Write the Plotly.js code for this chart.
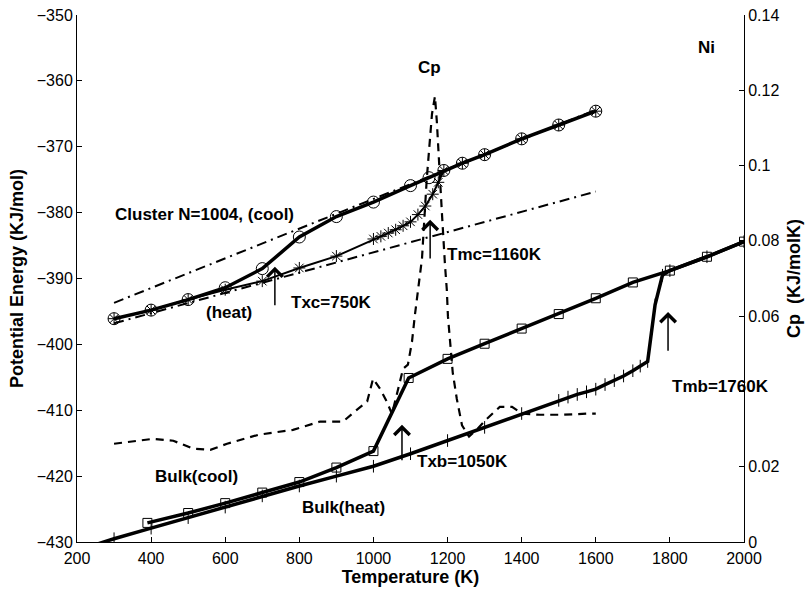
<!DOCTYPE html>
<html>
<head>
<meta charset="utf-8">
<script src="https://cdn.plot.ly/plotly-3.0.1.min.js"></script>
<style>html,body{margin:0;padding:0;background:#fff;}#chart{width:807px;height:593px;}</style>
</head>
<body>
<div id="chart"></div>
<script>
// Cluster N=1004, cooling (circles)
var T_clusterCool = [300,400,500,600,700,800,900,1000,1100,1150,1190,1240,1300,1400,1500,1600];
var E_clusterCool = [-396.1,-394.8,-393.2,-391.4,-388.5,-383.7,-380.6,-378.4,-375.9,-374.7,-373.6,-372.5,-371.2,-368.8,-366.7,-364.6];
// Cluster heating (stars)
var T_clusterHeat = [300,400,500,600,700,800,900,1000,1020,1040,1060,1080,1100,1120,1140,1160,1175,1190,1240,1300,1400,1500,1600];
var E_clusterHeat = [-396.1,-394.8,-393.2,-391.7,-390.4,-388.4,-386.6,-384.0,-383.6,-383.1,-382.6,-382.0,-381.4,-380.3,-379.0,-377.2,-375.4,-373.6,-372.5,-371.2,-368.8,-366.7,-364.6];
// Linear fits (dash-dot)
var T_fitLiquid = [300,1600];
var E_fitLiquid = [-393.7,-364.4];
var T_fitSolid = [300,1600];
var E_fitSolid = [-396.8,-376.8];
// Bulk cooling (squares)
var T_bulkCool = [390,500,600,700,800,900,1000,1095,1200,1300,1400,1500,1600,1700,1800,1900,2000];
var E_bulkCool = [-427.1,-425.6,-424.1,-422.5,-420.9,-418.7,-416.2,-405.1,-402.2,-399.9,-397.6,-395.4,-393.0,-390.6,-388.8,-386.7,-384.4];
// Bulk heating (ticks)
var T_bulkHeat = [200,300,400,500,600,700,800,900,1000,1100,1200,1300,1400,1500,1525,1550,1575,1600,1625,1650,1675,1700,1720,1740,1760,1780,1800,1900,2000];
var E_bulkHeat = [-431.3,-429.5,-427.9,-426.3,-424.7,-423.0,-421.5,-420.0,-418.5,-416.6,-414.6,-412.6,-410.5,-408.5,-408.0,-407.6,-407.2,-406.8,-406.1,-405.5,-404.8,-404.0,-403.3,-402.6,-394.0,-389.5,-388.8,-386.7,-384.4];
// Cp (right axis)
var T_cp = [300,405,460,513,560,605,690,783,856,918,955,983,999,1018,1036,1050,1065,1080,1093,1104,1112,1120,1131,1137,1144,1158,1166,1171,1177,1185,1193,1198,1201,1206,1214,1225,1239,1258,1280,1306,1341,1374,1401,1449,1511,1579,1600];
var Cp = [0.0261,0.0274,0.0269,0.0248,0.0245,0.0261,0.0285,0.0298,0.032,0.032,0.0351,0.0373,0.0434,0.0407,0.0373,0.034,0.040,0.046,0.0471,0.0532,0.0604,0.0665,0.0753,0.0852,0.0966,0.1137,0.1184,0.1118,0.1003,0.087,0.0737,0.067,0.060,0.054,0.045,0.038,0.031,0.028,0.030,0.0327,0.0359,0.0359,0.0341,0.0338,0.0338,0.0341,0.0341];
// Right-axis ticks (0.04 label hidden behind the Tmb label in the original)
var cpTickVals = [0,0.02,0.04,0.06,0.08,0.1,0.12,0.14];
var cpTickText = ['0','0.02','','0.06','0.08','0.1','0.12','0.14'];

// Arrows: [T, E_tip, E_tail]
var arrowT = [734,1153,1077,1795];
var arrowTip = [-388.2,-381.1,-412.2,-395.1];
var arrowTail = [-394.3,-387.2,-417.8,-401.2];
// Text labels
var labelText = ["Cluster N=1004, (cool)","(heat)","Txc=750K","Tmc=1160K","Txb=1050K","Tmb=1760K","Bulk(cool)","Bulk(heat)","Cp","Ni"];
var labelT = [297,610,772,1193,1112,1800,405,802,1150,1900];
var labelE = [-380.3,-395.2,-393.6,-386.4,-417.8,-406.4,-420.1,-424.8,-357.9,-355.0];

var F = "Liberation Sans, Arial, Helvetica, sans-serif";
var traces = [
  {x:T_cp, y:Cp, yaxis:'y2', mode:'lines', line:{color:'black', width:2.2, dash:'8px,6px'}},
  {x:T_fitLiquid, y:E_fitLiquid, mode:'lines', line:{color:'black', width:2, dash:'10px,5px,2px,5px'}},
  {x:T_fitSolid, y:E_fitSolid, mode:'lines', line:{color:'black', width:2, dash:'10px,5px,2px,5px'}},
  {x:T_bulkHeat, y:E_bulkHeat, mode:'lines+markers', line:{color:'black', width:3.5},
   marker:{symbol:'line-ns-open', size:9, color:'black', line:{color:'black', width:1}}},
  {x:T_bulkCool, y:E_bulkCool, mode:'lines+markers', line:{color:'black', width:3.5},
   marker:{symbol:'square-open', size:9, color:'black', line:{color:'black', width:1}}},
  {x:T_clusterHeat, y:E_clusterHeat, mode:'lines+markers', line:{color:'black', width:2},
   marker:{symbol:'asterisk-open', size:10, color:'black', line:{color:'black', width:1}}},
  {x:T_clusterCool, y:E_clusterCool, mode:'lines+markers', line:{color:'black', width:3.5},
   marker:{symbol:'circle-open', size:12, color:'black', line:{color:'black', width:1}}}
];

var annotations = [];
for (var i=0;i<arrowT.length;i++){
  annotations.push({x:arrowT[i], y:arrowTip[i], ax:arrowT[i], ay:arrowTail[i], axref:'x', ayref:'y', xref:'x', yref:'y',
    text:'', showarrow:true, arrowhead:4, arrowsize:2, arrowwidth:1.5, arrowcolor:'black'});
}
for (var j=0;j<labelText.length;j++){
  var anc = (labelText[j]==='Cp'||labelText[j]==='Ni'||labelText[j]==='(heat)') ? 'center' : 'left';
  annotations.push({x:labelT[j], y:labelE[j], xref:'x', yref:'y', text:'<b>'+labelText[j]+'</b>', showarrow:false,
    xanchor:anc, yanchor:'middle', font:{family:F, size:17, color:'black'}});
}

var layout = {
  width:807, height:593,
  margin:{l:77, r:63, t:15, b:51, pad:0},
  paper_bgcolor:'white', plot_bgcolor:'white',
  showlegend:false,
  font:{family:F, size:16, color:'black'},
  xaxis:{range:[200,2000], dtick:200, tick0:200, ticks:'inside', ticklen:5, tickcolor:'black',
    showline:true, linecolor:'black', linewidth:1, showgrid:false, zeroline:false,
    tickfont:{family:F, size:16, color:'black'}, ticklabelstandoff:2,
    title:{text:'<b>Temperature (K)</b>', font:{family:F, size:18, color:'black'}, standoff:0}},
  yaxis:{range:[-430,-350], dtick:10, ticks:'inside', ticklen:5, tickcolor:'black',
    showline:true, linecolor:'black', linewidth:1, showgrid:false, zeroline:false,
    tickfont:{family:F, size:16, color:'black'},
    title:{text:'<b>Potential Energy (KJ/mol)</b>', font:{family:F, size:18, color:'black'}, standoff:8}},
  yaxis2:{range:[0,0.14], tickmode:'array', tickvals:cpTickVals, ticktext:cpTickText, overlaying:'y', side:'right', ticks:'inside', ticklen:5, tickcolor:'black',
    showline:true, linecolor:'black', linewidth:1, showgrid:false, zeroline:false,
    tickfont:{family:F, size:16, color:'black'},
    title:{text:'<b>Cp\u00a0\u00a0(KJ/molK)</b>', font:{family:F, size:18, color:'black'}, standoff:8}},
  annotations:annotations
};

Plotly.newPlot('chart', traces, layout, {displayModeBar:false, staticPlot:true});
</script>
</body>
</html>
